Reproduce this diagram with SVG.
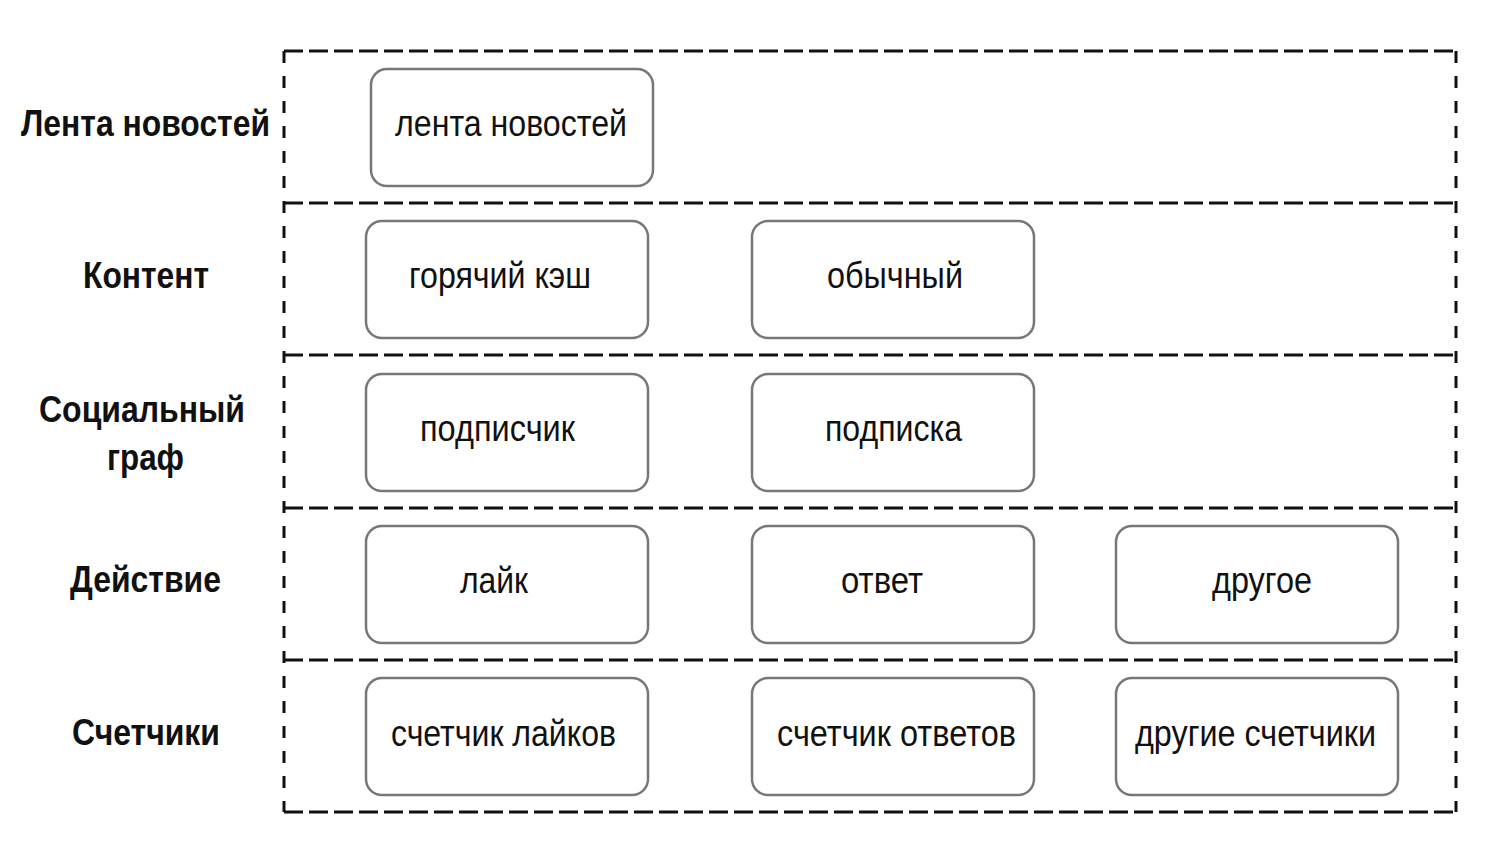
<svg xmlns="http://www.w3.org/2000/svg" width="1490" height="844" viewBox="0 0 1490 844">
<style>
.h{stroke:#111;stroke-width:3;stroke-dasharray:19 6;fill:none}
.v{stroke:#111;stroke-width:3;stroke-dasharray:12 13;fill:none}
.box{fill:#fff;stroke:#777;stroke-width:2.5}
.t{font-family:"Liberation Sans",Arial,sans-serif;font-size:36px;fill:#111;text-anchor:start}
.l{font-family:"Liberation Sans",Arial,sans-serif;font-size:36px;font-weight:bold;fill:#111}
</style>
<rect width="1490" height="844" fill="#fff"/>
<g id="connectors">
<line class="h" x1="284" y1="51" x2="1456" y2="51"/>
<line class="h" x1="284" y1="203" x2="1456" y2="203"/>
<line class="h" x1="284" y1="355" x2="1456" y2="355"/>
<line class="h" x1="284" y1="508" x2="1456" y2="508"/>
<line class="h" x1="284" y1="660" x2="1456" y2="660"/>
<line class="h" x1="284" y1="812" x2="1456" y2="812"/>
<line class="v" x1="284" y1="51" x2="284" y2="812"/>
<line class="v" x1="1456" y1="51" x2="1456" y2="812"/>
</g>
<g id="labels">
<text class="l" x="21" y="136" textLength="249" lengthAdjust="spacingAndGlyphs">Лента новостей</text>
<text class="l" x="83" y="288" textLength="126" lengthAdjust="spacingAndGlyphs">Контент</text>
<text class="l" x="39" y="422" textLength="206" lengthAdjust="spacingAndGlyphs">Социальный</text>
<text class="l" x="107" y="470" textLength="77" lengthAdjust="spacingAndGlyphs">граф</text>
<text class="l" x="70" y="592" textLength="151" lengthAdjust="spacingAndGlyphs">Действие</text>
<text class="l" x="72" y="745" textLength="148" lengthAdjust="spacingAndGlyphs">Счетчики</text>
</g>
<g id="n1"><rect class="box" x="371" y="69" width="282" height="117" rx="16"/><text class="t" x="395" y="136" textLength="232" lengthAdjust="spacingAndGlyphs">лента новостей</text></g>
<g id="n2"><rect class="box" x="366" y="221" width="282" height="117" rx="16"/><text class="t" x="409" y="288" textLength="182" lengthAdjust="spacingAndGlyphs">горячий кэш</text></g>
<g id="n3"><rect class="box" x="752" y="221" width="282" height="117" rx="16"/><text class="t" x="827" y="288" textLength="136" lengthAdjust="spacingAndGlyphs">обычный</text></g>
<g id="n4"><rect class="box" x="366" y="374" width="282" height="117" rx="16"/><text class="t" x="420" y="441" textLength="155" lengthAdjust="spacingAndGlyphs">подписчик</text></g>
<g id="n5"><rect class="box" x="752" y="374" width="282" height="117" rx="16"/><text class="t" x="825" y="441" textLength="137" lengthAdjust="spacingAndGlyphs">подписка</text></g>
<g id="n6"><rect class="box" x="366" y="526" width="282" height="117" rx="16"/><text class="t" x="460" y="593" textLength="68" lengthAdjust="spacingAndGlyphs">лайк</text></g>
<g id="n7"><rect class="box" x="752" y="526" width="282" height="117" rx="16"/><text class="t" x="841" y="593" textLength="82" lengthAdjust="spacingAndGlyphs">ответ</text></g>
<g id="n8"><rect class="box" x="1116" y="526" width="282" height="117" rx="16"/><text class="t" x="1212" y="593" textLength="100" lengthAdjust="spacingAndGlyphs">другое</text></g>
<g id="n9"><rect class="box" x="366" y="678" width="282" height="117" rx="16"/><text class="t" x="391" y="746" textLength="225" lengthAdjust="spacingAndGlyphs">счетчик лайков</text></g>
<g id="n10"><rect class="box" x="752" y="678" width="282" height="117" rx="16"/><text class="t" x="777" y="746" textLength="239" lengthAdjust="spacingAndGlyphs">счетчик ответов</text></g>
<g id="n11"><rect class="box" x="1116" y="678" width="282" height="117" rx="16"/><text class="t" x="1135" y="746" textLength="241" lengthAdjust="spacingAndGlyphs">другие счетчики</text></g>
</svg>
